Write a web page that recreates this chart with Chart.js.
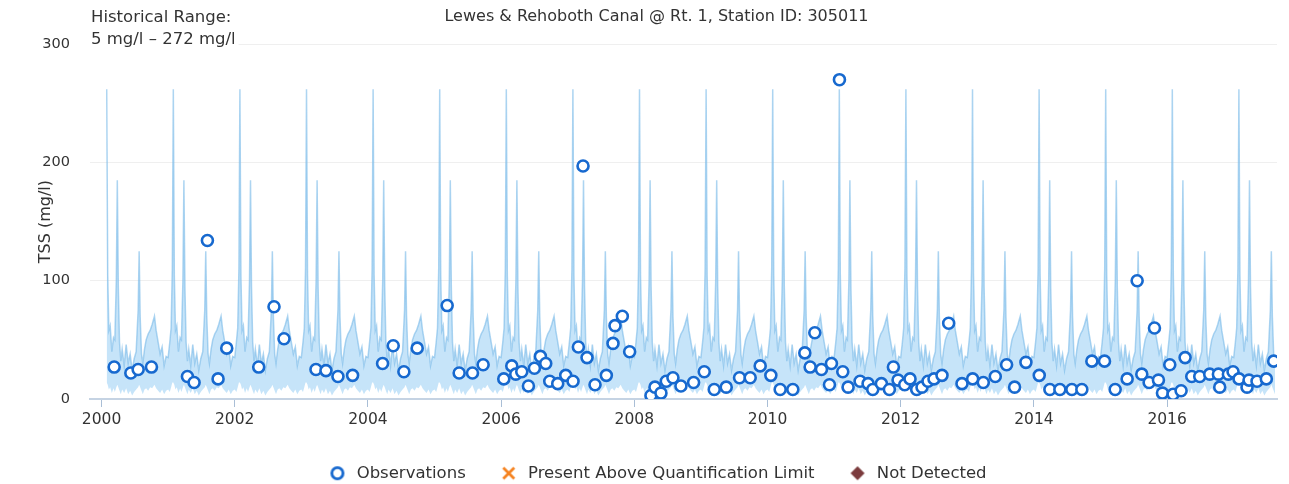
<!DOCTYPE html>
<html>
<head>
<meta charset="utf-8">
<script src="https://cdn.jsdelivr.net/npm/chart.js@4/dist/chart.umd.min.js"></script>
<style>
  html, body { margin: 0; padding: 0; background: #fff; overflow: hidden; }
  #wrap { width: 1289px; height: 484px; position: relative; }
</style>
</head>
<body>
<div id="wrap"><canvas id="c" width="1289" height="484"></canvas></div>
<script>
// Station and range labels
const chartTitle = 'Lewes & Rehoboth Canal @ Rt. 1, Station ID: 305011';
const rangeLabelLines = ['Historical Range:', '5 mg/l – 272 mg/l'];
const yAxisTitle = 'TSS (mg/l)';
const legendLabels = ['Observations', 'Present Above Quantification Limit', 'Not Detected'];

// Seasonal historical range (fraction of year, low, high), mg/l
const seasonFraction = [0.00, 0.025, 0.045, 0.063, 0.078, 0.093, 0.11, 0.13, 0.155, 0.18, 0.20, 0.222, 0.237, 0.252, 0.27, 0.29, 0.31, 0.34, 0.37, 0.40, 0.43, 0.46, 0.49, 0.52, 0.55, 0.565, 0.58, 0.60, 0.62, 0.645, 0.67, 0.70, 0.73, 0.76, 0.795, 0.82, 0.85, 0.88, 0.91, 0.94, 0.97];
const seasonLow      = [8, 6, 10, 14, 14, 12, 8, 10, 5, 9, 6, 10, 12, 10, 7, 4, 8, 5, 9, 4, 7, 3, 6, 8, 10, 12, 10, 7, 4, 8, 9, 7, 10, 9, 12, 9, 7, 5, 8, 4, 7];
const seasonHigh     = [35, 48, 60, 110, 262, 105, 58, 62, 40, 52, 50, 100, 185, 95, 48, 32, 42, 28, 46, 30, 38, 24, 34, 40, 75, 125, 70, 38, 30, 42, 50, 55, 58, 63, 70, 58, 48, 38, 44, 28, 36];
const rangeYears = [2000, 2001, 2002, 2003, 2004, 2005, 2006, 2007, 2008, 2009, 2010, 2011, 2012, 2013, 2014, 2015, 2016, 2017];
const rangeStart = 2000.07;
const rangeEnd = 2017.62;

// Observed TSS samples (decimal year, mg/l)
const obsTime = [
  2000.19, 2000.44, 2000.55, 2000.75, 2001.29, 2001.39, 2001.59, 2001.75, 2001.88,
  2002.36, 2002.59, 2002.74, 2003.22, 2003.37, 2003.55, 2003.77, 2004.22, 2004.38,
  2004.54, 2004.74, 2005.19, 2005.37, 2005.57, 2005.73, 2006.04, 2006.16, 2006.22,
  2006.31, 2006.41, 2006.50, 2006.59, 2006.67, 2006.73, 2006.85, 2006.97, 2007.08,
  2007.16, 2007.23, 2007.29, 2007.41, 2007.58, 2007.68, 2007.71, 2007.82, 2007.93,
  2008.25, 2008.31, 2008.40, 2008.48, 2008.58, 2008.70, 2008.89, 2009.05, 2009.20,
  2009.38, 2009.58, 2009.74, 2009.89, 2010.05, 2010.19, 2010.38, 2010.56, 2010.64,
  2010.71, 2010.81, 2010.93, 2010.96, 2011.08, 2011.13, 2011.21, 2011.39, 2011.51,
  2011.58, 2011.71, 2011.83, 2011.89, 2011.96, 2012.06, 2012.14, 2012.24, 2012.32,
  2012.41, 2012.50, 2012.62, 2012.72, 2012.92, 2013.08, 2013.24, 2013.42, 2013.59,
  2013.71, 2013.88, 2014.08, 2014.24, 2014.39, 2014.57, 2014.72, 2014.87, 2015.06,
  2015.22, 2015.40, 2015.55, 2015.62, 2015.73, 2015.81, 2015.87, 2015.93, 2016.04,
  2016.09, 2016.21, 2016.27, 2016.37, 2016.49, 2016.64, 2016.77, 2016.79, 2016.92,
  2016.99, 2017.08, 2017.20, 2017.23, 2017.35, 2017.49, 2017.60
];
const obsValue = [
  27, 22, 25, 27, 19, 14, 134, 17, 43,
  27, 78, 51, 25, 24, 19, 20, 30, 45,
  23, 43, 79, 22, 22, 29, 17, 28, 21,
  23, 11, 26, 36, 30, 15, 13, 20, 15,
  44, 197, 35, 12, 20, 47, 62, 70, 40,
  3, 10, 5, 15, 18, 11, 14, 23, 8,
  10, 18, 18, 28, 20, 8, 8, 39, 27,
  56, 25, 12, 30, 270, 23, 10, 15, 13,
  8, 13, 8, 27, 16, 12, 17, 8, 10,
  15, 17, 20, 64, 13, 17, 14, 19, 29,
  10, 31, 20, 8, 8, 8, 8, 32, 32,
  8, 17, 100, 21, 14, 60, 16, 5, 29,
  4, 7, 35, 19, 19, 21, 21, 10, 21,
  23, 17, 10, 16, 15, 17, 32
];

// Axis ticks
const yTicks = [0, 100, 200, 300];
const xTickYears = [2000, 2002, 2004, 2006, 2008, 2010, 2012, 2014, 2016];

const FONT = '"DejaVu Sans", "Liberation Sans", sans-serif';
const TEXT = '#333333';
const OBS_BLUE = '#1769cf';
const PAQL_ORANGE = '#f5821f';
const ND_BROWN = '#7b3b3d';

// Build the seasonal envelope over the sampled period
const rangeLowPts = [];
const rangeHighPts = [];
rangeYears.forEach(yr => {
  seasonFraction.forEach((f, i) => {
    const t = yr + f;
    if (t >= rangeStart && t <= rangeEnd) {
      rangeLowPts.push({ x: t, y: seasonLow[i] });
      rangeHighPts.push({ x: t, y: seasonHigh[i] });
    }
  });
});
const obsPts = obsTime.map((t, i) => ({ x: t, y: obsValue[i] }));

// Small legend symbols
function symbol(draw) {
  const c = document.createElement('canvas');
  c.width = 18; c.height = 18;
  draw(c.getContext('2d'));
  return c;
}
const circleSym = symbol(ctx => {
  ctx.beginPath(); ctx.arc(9, 9, 5.6, 0, Math.PI * 2);
  ctx.fillStyle = '#fff'; ctx.fill();
  ctx.lineWidth = 2.8; ctx.strokeStyle = OBS_BLUE; ctx.stroke();
});
const crossSym = symbol(ctx => {
  ctx.lineWidth = 2.8; ctx.strokeStyle = PAQL_ORANGE; ctx.lineCap = 'butt';
  ctx.beginPath(); ctx.moveTo(3.5, 3.5); ctx.lineTo(14.5, 14.5);
  ctx.moveTo(14.5, 3.5); ctx.lineTo(3.5, 14.5); ctx.stroke();
});
const diamondSym = symbol(ctx => {
  ctx.beginPath(); ctx.moveTo(9, 2); ctx.lineTo(16, 9); ctx.lineTo(9, 16); ctx.lineTo(2, 9);
  ctx.closePath(); ctx.fillStyle = ND_BROWN; ctx.fill();
});
const legendSymbols = [circleSym, crossSym, diamondSym];

// Corner note with the historical range
const rangeNote = {
  id: 'rangeNote',
  afterDraw(chart) {
    const ctx = chart.ctx;
    ctx.save();
    ctx.font = '16.5px ' + FONT;
    const w = Math.max(...rangeLabelLines.map(s => ctx.measureText(s).width));
    ctx.fillStyle = '#ffffff';
    ctx.fillRect(88, 6, w + 6, 46);
    ctx.fillStyle = TEXT;
    ctx.textBaseline = 'middle';
    ctx.fillText(rangeLabelLines[0], 91, 18);
    ctx.fillText(rangeLabelLines[1], 91, 40);
    ctx.restore();
  }
};

new Chart(document.getElementById('c'), {
  type: 'line',
  data: {
    datasets: [
      {
        label: legendLabels[0],
        data: obsPts,
        showLine: false,
        pointStyle: 'circle',
        pointRadius: 5.5,
        pointHoverRadius: 5.5,
        pointBorderWidth: 2.6,
        pointBorderColor: OBS_BLUE,
        pointBackgroundColor: '#ffffff',
        borderColor: OBS_BLUE,
        backgroundColor: '#ffffff',
        order: 0
      },
      {
        label: legendLabels[1],
        data: [],
        showLine: false,
        pointStyle: 'crossRot',
        borderColor: PAQL_ORANGE,
        backgroundColor: PAQL_ORANGE,
        order: 1
      },
      {
        label: legendLabels[2],
        data: [],
        showLine: false,
        pointStyle: 'rectRot',
        borderColor: ND_BROWN,
        backgroundColor: ND_BROWN,
        order: 2
      },
      {
        label: 'rangeLow',
        data: rangeLowPts,
        borderWidth: 0,
        borderColor: 'rgba(0,0,0,0)',
        pointRadius: 0,
        fill: false,
        tension: 0,
        order: 6
      },
      {
        label: 'rangeHigh',
        data: rangeHighPts,
        borderWidth: 1.5,
        borderColor: 'rgba(120,185,232,0.6)',
        backgroundColor: 'rgba(160,210,245,0.6)',
        pointRadius: 0,
        fill: '-1',
        tension: 0,
        order: 5
      }
    ]
  },
  options: {
    responsive: false,
    animation: false,
    events: [],
    layout: { padding: { left: 36, right: 12, top: 0, bottom: 0 } },
    plugins: {
      tooltip: { enabled: false },
      title: {
        display: true,
        text: chartTitle,
        color: TEXT,
        font: { family: FONT, size: 16, weight: 'normal' },
        padding: { top: 7, bottom: 18 }
      },
      legend: {
        display: true,
        position: 'bottom',
        maxHeight: 51,
        labels: {
          usePointStyle: true,
          pointStyleWidth: 22,
          boxHeight: 14,
          padding: 32,
          color: TEXT,
          font: { family: FONT, size: 16.5 },
          generateLabels: () => legendLabels.map((text, i) => ({
            text,
            pointStyle: legendSymbols[i],
            fillStyle: 'transparent',
            strokeStyle: 'transparent',
            lineWidth: 0,
            fontColor: TEXT,
            hidden: false,
            datasetIndex: i
          }))
        }
      }
    },
    scales: {
      x: {
        type: 'linear',
        min: 1999.827,
        max: 2017.65,
        afterBuildTicks: scale => { scale.ticks = xTickYears.map(v => ({ value: v })); },
        afterFit: scale => { scale.height = 34; },
        border: { display: true, color: '#c5d3e3', width: 2 },
        grid: { drawOnChartArea: false, drawTicks: true, tickLength: 8, color: '#a9bed6' },
        ticks: {
          color: TEXT,
          padding: 4,
          maxRotation: 0,
          autoSkip: false,
          font: { family: FONT, size: 15.5 },
          callback: v => String(v)
        }
      },
      y: {
        min: 0,
        max: 300,
        z: 1,
        afterBuildTicks: scale => { scale.ticks = yTicks.map(v => ({ value: v })); },
        afterFit: scale => { scale.width = 54; },
        border: { display: false },
        grid: { color: 'rgba(120,120,120,0.12)', drawTicks: false },
        ticks: {
          color: TEXT,
          padding: 20,
          font: { family: FONT, size: 14.5 }
        },
        title: {
          display: true,
          text: yAxisTitle,
          color: TEXT,
          font: { family: FONT, size: 16 },
          padding: { top: 0, bottom: 0 }
        }
      }
    }
  },
  plugins: [rangeNote]
});
</script>
</body>
</html>
